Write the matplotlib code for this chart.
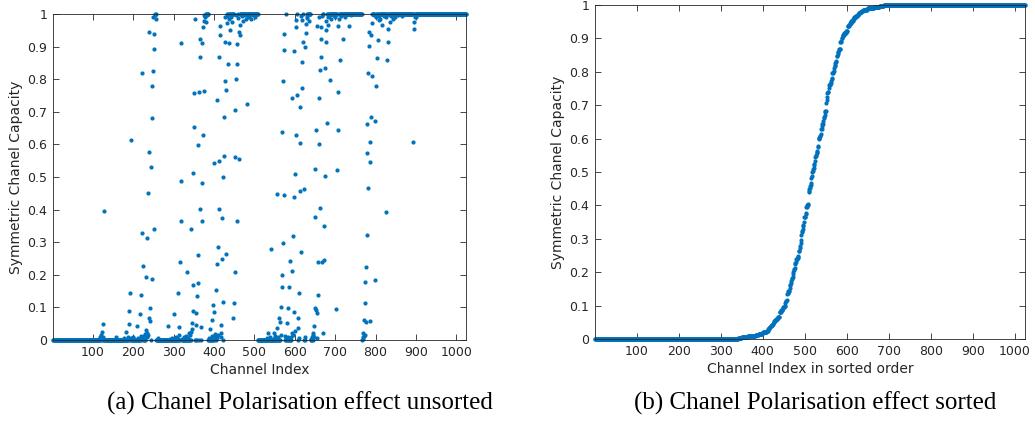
import matplotlib
matplotlib.use('Agg')
import matplotlib.pyplot as plt
import numpy as np

n_channels = 1024

# index ranges (1-based, inclusive) that sit on the capacity = 1 line; the rest sit on 0
one_runs = [(253, 256), (370, 385), (410, 415), (423, 446), (448, 508), (577, 577),
            (600, 606), (613, 620), (627, 638), (658, 669), (671, 766), (777, 1024)]

# clearly visible scattered points (channel index, capacity)
spread_pts = [
    (117, 0.01), (121, 0.015), (123, 0.025), (126, 0.05), (128, 0.395), (158, 0.008),
    (176, 0.005), (183, 0.025), (189, 0.05), (190, 0.088), (191, 0.143), (193, 0.613),
    (198, 0.008), (208, 0.043), (216, 0.08), (220, 0.139), (221, 0.82), (222, 0.329),
    (223, 0.227), (226, 0.012), (231, 0.194), (232, 0.03), (235, 0.312), (237, 0.452),
    (238, 0.577), (239, 0.945), (240, 0.066), (241, 0.059), (242, 0.099), (244, 0.532),
    (245, 0.187), (246, 0.68), (247, 0.78), (248, 0.99), (249, 0.826), (250, 0.339),
    (251, 0.892), (252, 0.94),
    (261, 0.005), (286, 0.043), (301, 0.08), (311, 0.145), (313, 0.015), (314, 0.04),
    (315, 0.24), (317, 0.365), (318, 0.488), (319, 0.91), (333, 0.208), (338, 0.02),
    (342, 0.342), (345, 0.033), (346, 0.053), (347, 0.088), (348, 0.169), (349, 0.511),
    (350, 0.653), (351, 0.759), (352, 0.986), (355, 0.046), (356, 0.082), (358, 0.135),
    (359, 0.599), (360, 0.174), (361, 0.262), (363, 0.761), (364, 0.401), (365, 0.869),
    (366, 0.922), (368, 0.039), (369, 0.364), (370, 0.483), (371, 0.91), (372, 0.629),
    (373, 0.959), (374, 0.763), (375, 0.98), (376, 0.997),
    (391, 0.033), (396, 0.061), (398, 0.107), (399, 0.087), (400, 0.544), (403, 0.01),
    (404, 0.153), (406, 0.232), (408, 0.736), (410, 0.286), (411, 0.401), (412, 0.55),
    (413, 0.867), (414, 0.936), (415, 0.963), (417, 0.022), (418, 0.046), (419, 0.25),
    (420, 0.375), (421, 0.499), (423, 0.116), (424, 0.564), (425, 0.683), (426, 0.915),
    (427, 0.795), (429, 0.264), (430, 0.766), (431, 0.971), (434, 0.847), (436, 0.91),
    (439, 0.951), (447, 0.066), (449, 0.113), (451, 0.21), (452, 0.56), (453, 0.706),
    (455, 0.802), (456, 0.366), (457, 0.846), (458, 0.907), (461, 0.945), (462, 0.556),
    (464, 0.936), (465, 0.966), (480, 0.984), (481, 0.724), (484, 0.994),
    (534, 0.02), (542, 0.278), (549, 0.02), (556, 0.036), (557, 0.448), (560, 0.066),
    (563, 0.056), (566, 0.1), (567, 0.637), (568, 0.162), (569, 0.2), (570, 0.297),
    (571, 0.795), (572, 0.444), (573, 0.89), (574, 0.938), (575, 0.012), (581, 0.053),
    (584, 0.097), (586, 0.162), (589, 0.243), (592, 0.741), (593, 0.02), (594, 0.212),
    (596, 0.319), (597, 0.44), (598, 0.888), (599, 0.087), (600, 0.029), (601, 0.508),
    (602, 0.629), (603, 0.961), (604, 0.982), (605, 0.751), (607, 0.036), (608, 0.066),
    (611, 0.143), (612, 0.458), (613, 0.716), (614, 0.603), (616, 0.271), (617, 0.772),
    (618, 0.854), (619, 0.982), (621, 0.915), (623, 0.462), (624, 0.9), (627, 0.943),
    (628, 0.969), (631, 0.987),
    (642, 0.01), (645, 0.022), (647, 0.043), (649, 0.097), (650, 0.376), (651, 0.525),
    (652, 0.092), (653, 0.644), (654, 0.963), (656, 0.082), (657, 0.137), (658, 0.24),
    (659, 0.601), (660, 0.741), (662, 0.404), (663, 0.828), (664, 0.869), (665, 0.922),
    (666, 0.959), (667, 0.24), (670, 0.02), (672, 0.35), (673, 0.245), (674, 0.503),
    (675, 0.833), (676, 0.915), (677, 0.951), (679, 0.665), (683, 0.966), (687, 0.798),
    (703, 0.096), (705, 0.521), (706, 0.644), (707, 0.963), (708, 0.762), (712, 0.859),
    (720, 0.922), (735, 0.963),
    (768, 0.008), (772, 0.061), (773, 0.115), (774, 0.179), (775, 0.015), (776, 0.056),
    (777, 0.225), (778, 0.322), (779, 0.575), (780, 0.663), (781, 0.467), (782, 0.818),
    (783, 0.902), (784, 0.946), (785, 0.059), (786, 0.608), (787, 0.547), (788, 0.683),
    (789, 0.936), (790, 0.971), (792, 0.81), (798, 0.672), (799, 0.184), (801, 0.779),
    (803, 0.864), (805, 0.92), (809, 0.982), (817, 0.966), (827, 0.394), (829, 0.859),
    (830, 0.915), (831, 0.953), (835, 0.976), (848, 0.992),
    (893, 0.608), (895, 0.953), (896, 0.976), (898, 0.99),
]

# small bumps just above the 0 line
low_pts = [
    (115, 0.004), (119, 0.006), (124, 0.008), (185, 0.004), (187, 0.01), (195, 0.006),
    (202, 0.004), (211, 0.007), (218, 0.012), (224, 0.005), (228, 0.018), (233, 0.02),
    (234, 0.009), (236, 0.014), (290, 0.004), (297, 0.006), (305, 0.01), (309, 0.006),
    (320, 0.004), (326, 0.008), (330, 0.012), (336, 0.006), (340, 0.015), (343, 0.025),
    (388, 0.006), (394, 0.012), (402, 0.018), (407, 0.005), (409, 0.014), (416, 0.008),
    (530, 0.006), (538, 0.01), (545, 0.004), (552, 0.012), (559, 0.008), (565, 0.015),
    (579, 0.006), (583, 0.01), (590, 0.008), (595, 0.016), (610, 0.006), (625, 0.01),
    (640, 0.004), (644, 0.015), (648, 0.008), (655, 0.006), (769, 0.004), (770, 0.02),
    (771, 0.012),
]

# small dips just below the 1 line
high_pts = [
    (254, 0.998), (255, 0.985), (377, 0.99), (378, 0.994), (381, 0.975), (383, 0.997),
    (428, 0.99), (433, 0.995), (438, 0.985), (442, 0.992), (445, 0.975), (454, 0.996),
    (459, 0.988), (468, 0.993), (472, 0.98), (476, 0.997), (487, 0.99), (492, 0.985),
    (497, 0.996), (502, 0.99), (615, 0.994), (630, 0.993), (635, 0.98), (661, 0.99),
    (668, 0.995), (678, 0.98), (681, 0.99), (685, 0.993), (690, 0.985), (695, 0.996),
    (700, 0.99), (710, 0.985), (715, 0.995), (725, 0.99), (740, 0.997), (795, 0.996),
    (800, 0.99), (808, 0.993), (812, 0.985), (820, 0.995), (825, 0.99), (838, 0.995),
    (842, 0.985), (855, 0.997), (865, 0.995), (900, 0.99),
]

x_ticks = [100, 200, 300, 400, 500, 600, 700, 800, 900, 1000]
y_ticks = [0, 0.1, 0.2, 0.3, 0.4, 0.5, 0.6, 0.7, 0.8, 0.9, 1]
y_labels = ['0', '0.1', '0.2', '0.3', '0.4', '0.5', '0.6', '0.7', '0.8', '0.9', '1']

cap = np.zeros(n_channels)
for s, e in one_runs:
    cap[s - 1:e] = 1.0
for i, v in spread_pts + low_pts + high_pts:
    cap[i - 1] = v
idx = np.arange(1, n_channels + 1)

blue = '#0072BD'
dark = '#262626'

fig = plt.figure(figsize=(10.35, 4.32), dpi=100)
W, H = 1035, 432
ax1 = fig.add_axes([53 / W, 1 - 340 / H, (466 - 53) / W, (340 - 14) / H])
ax2 = fig.add_axes([595 / W, 1 - 339 / H, (1025 - 595) / W, (339 - 5) / H])


def style(ax, xlabel):
    ax.set_xlim(1, n_channels)
    ax.set_ylim(0, 1)
    ax.set_xticks(x_ticks)
    ax.set_yticks(y_ticks)
    ax.set_yticklabels(y_labels)
    ax.tick_params(direction='in', length=4, width=0.6, colors=dark, labelsize=9,
                   top=True, right=True, pad=4)
    for sp in ax.spines.values():
        sp.set_color(dark)
        sp.set_linewidth(0.6)
    ax.set_xlabel(xlabel, fontsize=10, color=dark, labelpad=3)
    ax.set_ylabel('Symmetric Chanel Capacity', fontsize=10, color=dark, labelpad=3)


ax1.plot(idx, cap, '.', ms=4, color=blue, clip_on=False)
style(ax1, 'Channel Index')

ax2.plot(idx, np.sort(cap), '.', ms=4, color=blue, clip_on=False)
style(ax2, 'Channel Index in sorted order')

fig.text(300 / W, 1 - 410 / H, '(a) Chanel Polarisation effect unsorted', ha='center', va='baseline',
         fontsize=18, family='Liberation Serif', color='black')
fig.text(815 / W, 1 - 410 / H, '(b) Chanel Polarisation effect sorted', ha='center', va='baseline',
         fontsize=18, family='Liberation Serif', color='black')

fig.savefig('out.png', dpi=100)
